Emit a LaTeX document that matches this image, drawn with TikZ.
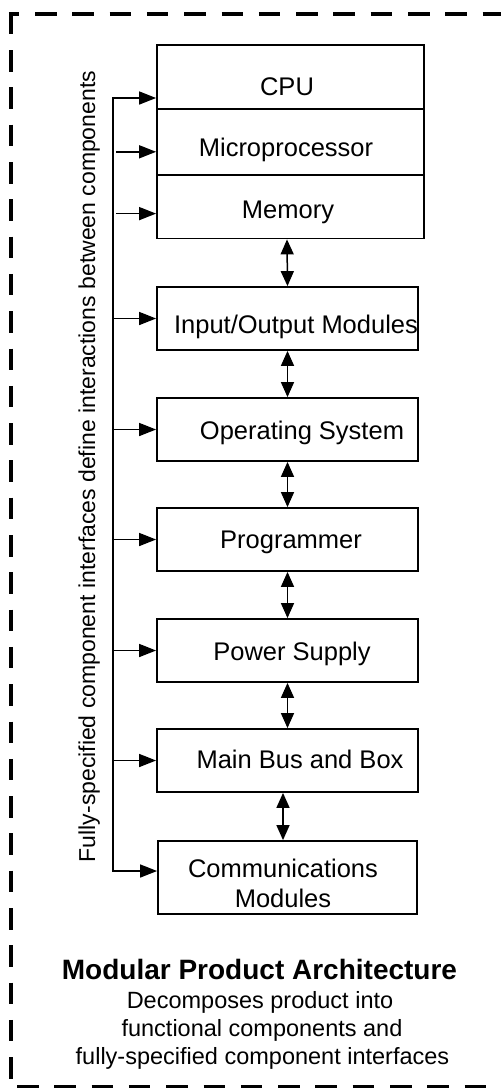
\documentclass[tikz,border=0pt]{standalone}
\usepackage{fontspec}
\setmainfont{Liberation Sans}
\usetikzlibrary{positioning, arrows.meta, calc}
\tikzset{>=latex}
\tikzset{
    module/.style = {rectangle, draw, line width=1.8pt, minimum width=261pt,
                        minimum height=63pt, inner sep=0pt},
    modtext/.style = {anchor=base, font=\fontsize{25.5}{30}\selectfont},
    feed/.style = {-{Triangle[length=17pt,width=13pt]}, line width=1.5pt},
    link/.style = {{Triangle[length=15pt,width=13pt]}-{Triangle[length=15pt,width=13pt]}, line width=1.5pt},
    border/.style = {line width=4.3pt, dash pattern=on 21.5pt off 15.8pt},
    caption/.style = {anchor=base, font=\fontsize{23.5}{28}\selectfont}
}

\begin{document}
\begin{tikzpicture}[x=1pt, y=-1pt]
		\useasboundingbox (0,0) rectangle (501,1088);
		% dashed frame
		\draw [border, dash phase=11.15pt] (8.85,14) -- (501,14);
		\draw [border] (11,12.8) -- (11,1088);
		\draw [border, dash phase=31.3pt] (11,1087.5) -- (501,1087.5);
		% modules
		\node (cpu) [module, minimum width=267pt, minimum height=63.8pt] at (290.5,77) {};
		\node (micro) [module, minimum width=267pt, minimum height=65.8pt, below=-1.8pt of cpu] {};
		\node (mem) [module, minimum width=267pt, minimum height=63.8pt, below=-1.8pt of micro] {};
		\node (io) [module] at (287.5,318.5) {};
		\node (os) [module] at (287.5,429.5) {};
		\node (prog) [module] at (287.5,539.5) {};
		\node (power) [module] at (287.5,650.5) {};
		\node (main) [module] at (287.5,760.5) {};
		\node (comm) [module, minimum width=259pt, minimum height=73pt] at (287.5,877.5) {};
		% module names
		\node (cpuT) [modtext] at (287,95) {CPU};
		\node (microT) [modtext] at (286,156.5) {Microprocessor};
		\node (memT) [modtext] at (288,218) {Memory};
		\node (ioT) [modtext] at (296,333) {Input/Output Modules};
		\node (osT) [modtext] at (302,439) {Operating System};
		\node (progT) [modtext] at (291,548) {Programmer};
		\node (powerT) [modtext] at (292,660) {Power Supply};
		\node (mainT) [modtext] at (300,768) {Main Bus and Box};
		\node (commT) [modtext] at (283,877) {Communications};
		\node (commT2) [modtext] at (283,907) {Modules};
		% interface bus
		\coordinate (busTop) at (113,98);
		\coordinate (busBot) at (113,871);
		\draw [feed, {Triangle[length=17pt,width=13pt]}-{Triangle[length=17pt,width=13pt]}]
			(cpu.west |- busTop) -- (busTop) -- (busBot) -- (comm.west |- busBot);
		\coordinate (microIn) at ([yshift=-10pt]micro.west);
		\coordinate (memIn) at ([yshift=-7pt]mem.west);
		\draw [feed] ($(busTop |- microIn)+(3,0)$) -- (microIn);
		\draw [feed] ($(busTop |- memIn)+(3,0)$) -- (memIn);
		\foreach \m in {io,os,prog,power,main}
			\draw [feed] (busTop |- \m.west) -- (\m.west);
		\node (iface) [rotate=90, anchor=base, font=\fontsize{23}{27}\selectfont] at (95,466.5)
			{Fully-specified component interfaces define interactions between components};
		% links between modules
		\draw [link] ([xshift=-3.5pt]mem.south) -- (io.north);
		\draw [link] (io) -- (os);
		\draw [link] (os) -- (prog);
		\draw [link] (prog) -- (power);
		\draw [link] (power) -- (main);
		\draw [link] ([xshift=-4.5pt]main.south) -- ([xshift=-4.5pt]comm.north);
		% caption
		\node (title) [anchor=base, font=\bfseries\fontsize{28}{33}\selectfont] at (259.5,979)
			{Modular Product Architecture};
		\node (sub1) [caption] at (260,1008) {Decomposes product into};
		\node (sub2) [caption] at (262,1036) {functional components and};
		\node (sub3) [caption] at (262.5,1064) {fully-specified component interfaces};
	\end{tikzpicture}
\end{document}
